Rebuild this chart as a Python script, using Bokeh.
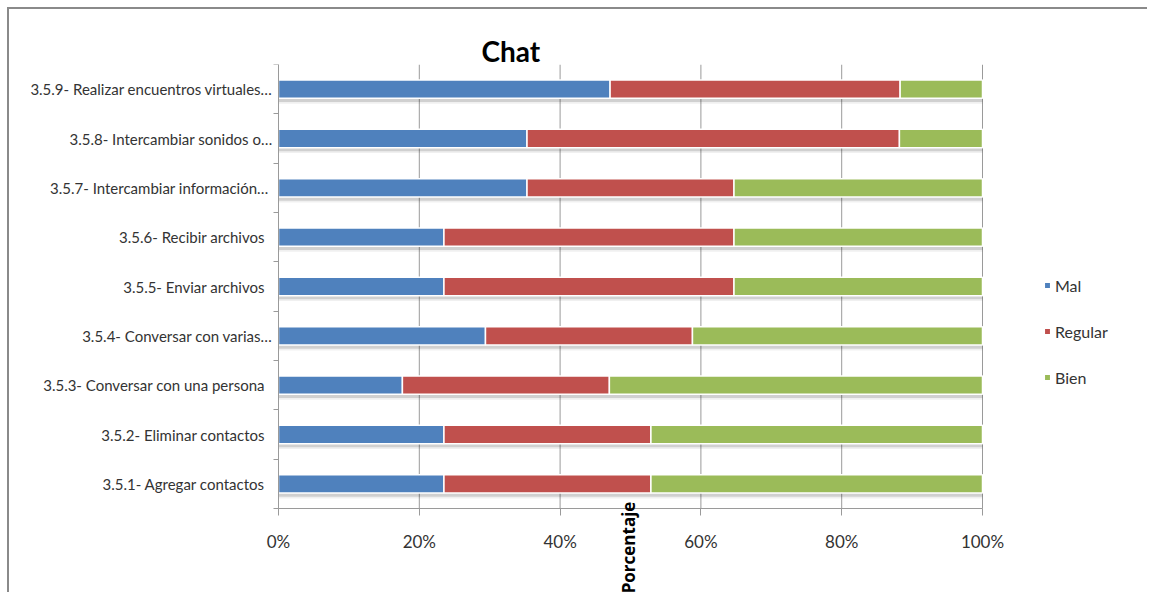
from bokeh.embed import file_html
from bokeh.models import (FixedTicker, Label, LinearAxis, Legend, LegendItem,
                          PrintfTickFormatter, Range1d)
from bokeh.plotting import figure
from bokeh.resources import INLINE

# Chat skills survey, bottom row first
categories = [
    "3.5.1- Agregar contactos",
    "3.5.2- Eliminar contactos",
    "3.5.3- Conversar con una persona",
    "3.5.4- Conversar con varias…",
    "3.5.5- Enviar archivos",
    "3.5.6- Recibir archivos",
    "3.5.7-  Intercambiar información…",
    "3.5.8- Intercambiar sonidos o…",
    "3.5.9- Realizar encuentros virtuales…",
]
mal = [23.5, 23.5, 17.6, 29.4, 23.5, 23.5, 35.3, 35.3, 47.1]
regular = [29.4, 29.4, 29.4, 29.4, 41.2, 41.2, 29.4, 52.9, 41.2]
bien = [47.1, 47.1, 53.0, 41.2, 35.3, 35.3, 35.3, 11.8, 11.7]
series = ["Mal", "Regular", "Bien"]
colors = ["#4F81BD", "#C0504D", "#9BBB59"]
x_ticks = [0, 20, 40, 60, 80, 100]

FONT = "Lato"
GRID = "#9a9a9a"

# canvas and plotting-area geometry (pixels)
W, H = 1140, 585
AXES_LEFT, TOP = 269, 55           # where the 0 % / top-row corner sits
AXIS_W, AXIS_H = 704, 444          # on-screen extent of the 0-100 % x 9 rows grid
n = len(categories)
px_x = 100 / AXIS_W
px_y = n / AXIS_H
x_start = -AXES_LEFT * px_x        # room left of 0 % for the row labels
x_end = (W - AXES_LEFT) * px_x     # room right of 100 % for the legend
y_start = n - (H - TOP) * px_y     # room below the rows for the axis text

ys = [i + 0.5 for i in range(n)]
totals = [a + b + c for a, b, c in zip(mal, regular, bien)]

p = figure(
    width=W, height=H,
    x_range=Range1d(x_start, x_end), y_range=Range1d(y_start, n),
    x_axis_location=None, y_axis_location=None,
    output_backend="svg", toolbar_location=None,
    min_border_left=0, min_border_right=0,
    min_border_top=TOP, min_border_bottom=0,
    title="Chat",
)
p.styles = {
    "margin-left": "7px", "margin-top": "7px",
    "border-left": "2px solid #8a8a8a", "border-top": "2px solid #8a8a8a",
}
p.outline_line_color = None
p.xgrid.visible = False
p.ygrid.visible = False

p.title.align = "left"
p.title.offset = AXES_LEFT + 203
p.title.standoff = -6
p.title.text_font = FONT
p.title.text_font_style = "bold"
p.title.text_font_size = "28px"
p.title.text_color = "#000000"

# vertical gridlines at the percentage ticks, spanning the rows only
p.segment(x0=x_ticks, y0=0, x1=x_ticks, y1=n, line_color=GRID, line_width=1)

# soft shadow under each bar
p.hbar(y=[y - 0.075 for y in ys], left=0, right=totals, height=0.37,
       fill_color="#000000", fill_alpha=0.13, line_color=None)
p.hbar(y=[y - 0.11 for y in ys], left=0, right=totals, height=0.37,
       fill_color="#000000", fill_alpha=0.06, line_color=None)

source = dict(y=ys, Mal=mal, Regular=regular, Bien=bien)
renderers = p.hbar_stack(series, y="y", height=0.37, color=colors,
                         line_color="white", line_width=1.5, source=source)

legend = Legend(
    items=[LegendItem(label=s, renderers=[r]) for s, r in zip(series, renderers)],
    location=(AXES_LEFT + 765, 207), orientation="vertical",
    glyph_width=8, glyph_height=8, label_height=20, label_standoff=4,
    spacing=26, padding=0, margin=0, border_line_color=None,
    background_fill_alpha=0,
    label_text_font=FONT, label_text_font_size="16px", label_text_color="#333333",
)
p.add_layout(legend)

# percentage axis pinned to the bottom of the rows
xaxis = LinearAxis(
    fixed_location=0, bounds=(0, 100),
    ticker=FixedTicker(ticks=x_ticks),
    formatter=PrintfTickFormatter(format="%d%%"),
    major_tick_in=0, major_tick_out=7,
    minor_tick_line_color=None,
    axis_line_color=GRID, major_tick_line_color=GRID,
    major_label_standoff=15,
    major_label_text_font=FONT, major_label_text_font_size="17px",
    major_label_text_color="#333333",
)
p.add_layout(xaxis, "below")

# category axis pinned at 0 %, ticks between rows, labels at row centres
yaxis = LinearAxis(
    fixed_location=0, bounds=(0, n),
    ticker=FixedTicker(ticks=ys, minor_ticks=list(range(n + 1))),
    major_label_overrides={
        y: (c if c.endswith("…") else c + "\u00a0\u00a0") for y, c in zip(ys, categories)
    },
    major_tick_line_color=None,
    minor_tick_in=0, minor_tick_out=5, minor_tick_line_color=GRID,
    axis_line_color=GRID,
    major_label_standoff=0,
    major_label_text_font=FONT, major_label_text_font_size="15px",
    major_label_text_color="#333333",
)
p.add_layout(yaxis, "left")

p.add_layout(Label(x=49.7, y=-1.72, text="Porcentaje", angle=90, angle_units="deg",
                   text_align="left", text_baseline="middle",
                   text_font="Open Sans", text_font_style="bold",
                   text_font_size="17px", text_color="#000000"))

open("out.html", "w").write(file_html(p, INLINE))
